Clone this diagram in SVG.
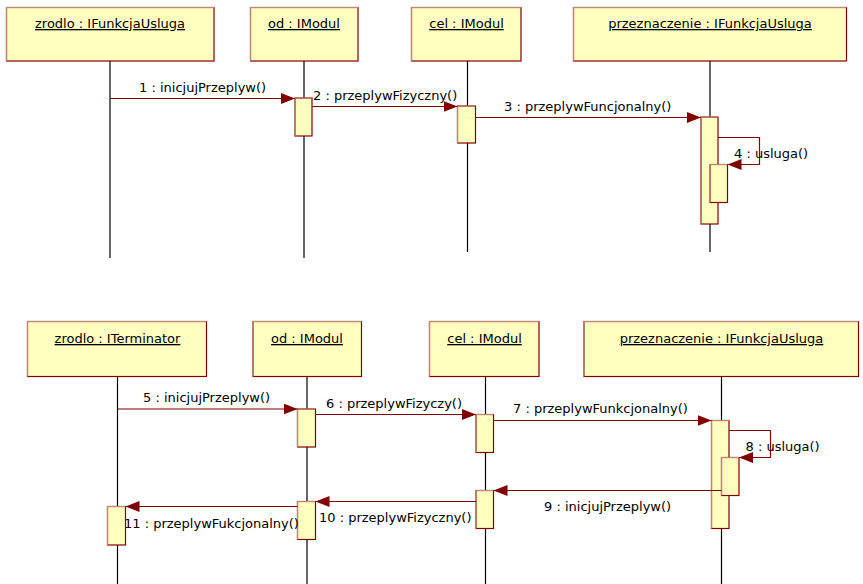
<svg xmlns="http://www.w3.org/2000/svg" width="863" height="584" viewBox="0 0 863 584">
<style>
.box{fill:#FFFFC0;stroke:#800000;stroke-width:1.2}
.hl{fill:none;stroke:#BC8A7A;stroke-width:1.2}
.act{fill:#FFFFC0;stroke:#800000;stroke-width:1.2}
.life{stroke:#000;stroke-width:1.2}
.msg{fill:none;stroke:#800000;stroke-width:1.2;marker-end:url(#ah)}
.t{font-family:"DejaVu Sans",sans-serif;font-size:13px;fill:#000}
.h{text-anchor:middle;text-decoration:underline}
</style>
<defs>
<marker id="ah" markerUnits="userSpaceOnUse" markerWidth="15" markerHeight="12" refX="14" refY="5.5" orient="auto">
<path d="M0,0 L14,5.5 L0,11 z" fill="#800000"/>
</marker>
</defs>
<g id="lifelines">
<line class="life" x1="110" y1="61" x2="110" y2="258"/>
<line class="life" x1="304" y1="61" x2="304" y2="258"/>
<line class="life" x1="467.5" y1="61" x2="467.5" y2="252"/>
<line class="life" x1="710" y1="61" x2="710" y2="252"/>
<line class="life" x1="117.5" y1="376.5" x2="117.5" y2="584"/>
<line class="life" x1="307" y1="376.5" x2="307" y2="584"/>
<line class="life" x1="485.5" y1="376.5" x2="485.5" y2="584"/>
<line class="life" x1="721.5" y1="376.5" x2="721.5" y2="584"/>
</g>
<g id="t-zrodlo">
<rect class="box" x="6.5" y="7.5" width="207.5" height="53.5"/>
<polyline class="hl" points="6.5,61 6.5,7.5 214,7.5"/>
<text class="t h" x="110" y="28">zrodlo : IFunkcjaUsluga</text>
</g>
<g id="t-od">
<rect class="box" x="250.5" y="7.5" width="107.5" height="53.5"/>
<polyline class="hl" points="250.5,61 250.5,7.5 358,7.5"/>
<text class="t h" x="304" y="28">od : IModul</text>
</g>
<g id="t-cel">
<rect class="box" x="411.5" y="7.5" width="109.5" height="53.5"/>
<polyline class="hl" points="411.5,61 411.5,7.5 521,7.5"/>
<text class="t h" x="466.5" y="28">cel : IModul</text>
</g>
<g id="t-przez">
<rect class="box" x="573.5" y="7.5" width="273" height="53.5"/>
<polyline class="hl" points="573.5,61 573.5,7.5 846.5,7.5"/>
<text class="t h" x="710" y="28">przeznaczenie : IFunkcjaUsluga</text>
</g>
<g id="b-zrodlo">
<rect class="box" x="27.5" y="321.5" width="179" height="55"/>
<polyline class="hl" points="27.5,376.5 27.5,321.5 206.5,321.5"/>
<text class="t h" x="117.5" y="343">zrodlo : ITerminator</text>
</g>
<g id="b-od">
<rect class="box" x="253" y="321.5" width="108.5" height="55"/>
<polyline class="hl" points="253,376.5 253,321.5 361.5,321.5"/>
<text class="t h" x="307" y="343">od : IModul</text>
</g>
<g id="b-cel">
<rect class="box" x="429.5" y="321.5" width="109.5" height="55"/>
<polyline class="hl" points="429.5,376.5 429.5,321.5 539,321.5"/>
<text class="t h" x="484.5" y="343">cel : IModul</text>
</g>
<g id="b-przez">
<rect class="box" x="584" y="321.5" width="274.5" height="55"/>
<polyline class="hl" points="584,376.5 584,321.5 858.5,321.5"/>
<text class="t h" x="721.5" y="343">przeznaczenie : IFunkcjaUsluga</text>
</g>
<g id="activations">
<rect class="act" x="295" y="98" width="17" height="38"/><polyline class="hl" points="295,136 295,98 312,98"/>
<rect class="act" x="457.5" y="106" width="18" height="37"/><polyline class="hl" points="457.5,143 457.5,106 475.5,106"/>
<rect class="act" x="701" y="117" width="17" height="107"/><polyline class="hl" points="701,224 701,117 718,117"/>
<rect class="act" x="710" y="164.5" width="17.5" height="38"/><polyline class="hl" points="710,202.5 710,164.5 727.5,164.5"/>
<rect class="act" x="297.5" y="409" width="18" height="38"/><polyline class="hl" points="297.5,447 297.5,409 315.5,409"/>
<rect class="act" x="476" y="414.5" width="17.5" height="38"/><polyline class="hl" points="476,452.5 476,414.5 493.5,414.5"/>
<rect class="act" x="711.5" y="420.5" width="17.5" height="108"/><polyline class="hl" points="711.5,528.5 711.5,420.5 729,420.5"/>
<rect class="act" x="721.5" y="457.5" width="17.5" height="38"/><polyline class="hl" points="721.5,495.5 721.5,457.5 739,457.5"/>
<rect class="act" x="476" y="490.5" width="17.5" height="38"/><polyline class="hl" points="476,528.5 476,490.5 493.5,490.5"/>
<rect class="act" x="297.5" y="501.5" width="18" height="38"/><polyline class="hl" points="297.5,539.5 297.5,501.5 315.5,501.5"/>
<rect class="act" x="107.5" y="506.5" width="18" height="38.5"/><polyline class="hl" points="107.5,545 107.5,506.5 125.5,506.5"/>
</g>
<g id="connectors">
<line class="msg" x1="110" y1="98.5" x2="295" y2="98.5"/>
<line class="msg" x1="312" y1="106.5" x2="457.5" y2="106.5"/>
<line class="msg" x1="475.5" y1="117.5" x2="701" y2="117.5"/>
<polyline class="msg" points="718,137.5 759.5,137.5 759.5,164.5 727.5,164.5"/>
<line class="msg" x1="117.5" y1="409" x2="297.5" y2="409"/>
<line class="msg" x1="315.5" y1="414.5" x2="476" y2="414.5"/>
<line class="msg" x1="493.5" y1="420.5" x2="711.5" y2="420.5"/>
<polyline class="msg" points="729,430.5 770.5,430.5 770.5,457.5 739,457.5"/>
<line class="msg" x1="721.5" y1="490.5" x2="493.5" y2="490.5"/>
<line class="msg" x1="476" y1="501.5" x2="315.5" y2="501.5"/>
<line class="msg" x1="297.5" y1="506.5" x2="125.5" y2="506.5"/>
</g>
<g id="labels">
<text class="t" x="139" y="92">1 : inicjujPrzeplyw()</text>
<text class="t" x="313" y="100">2 : przeplywFizyczny()</text>
<text class="t" x="504" y="111">3 : przeplywFuncjonalny()</text>
<text class="t" x="734" y="158">4 : usluga()</text>
<text class="t" x="143" y="402">5 : inicjujPrzeplyw()</text>
<text class="t" x="326" y="408">6 : przeplywFizyczy()</text>
<text class="t" x="513" y="413">7 : przeplywFunkcjonalny()</text>
<text class="t" x="745.5" y="451">8 : usluga()</text>
<text class="t" x="544" y="511">9 : inicjujPrzeplyw()</text>
<text class="t" x="319" y="522">10 : przeplywFizyczny()</text>
<text class="t" x="124" y="527.5">11 : przeplywFukcjonalny()</text>
</g>
</svg>
